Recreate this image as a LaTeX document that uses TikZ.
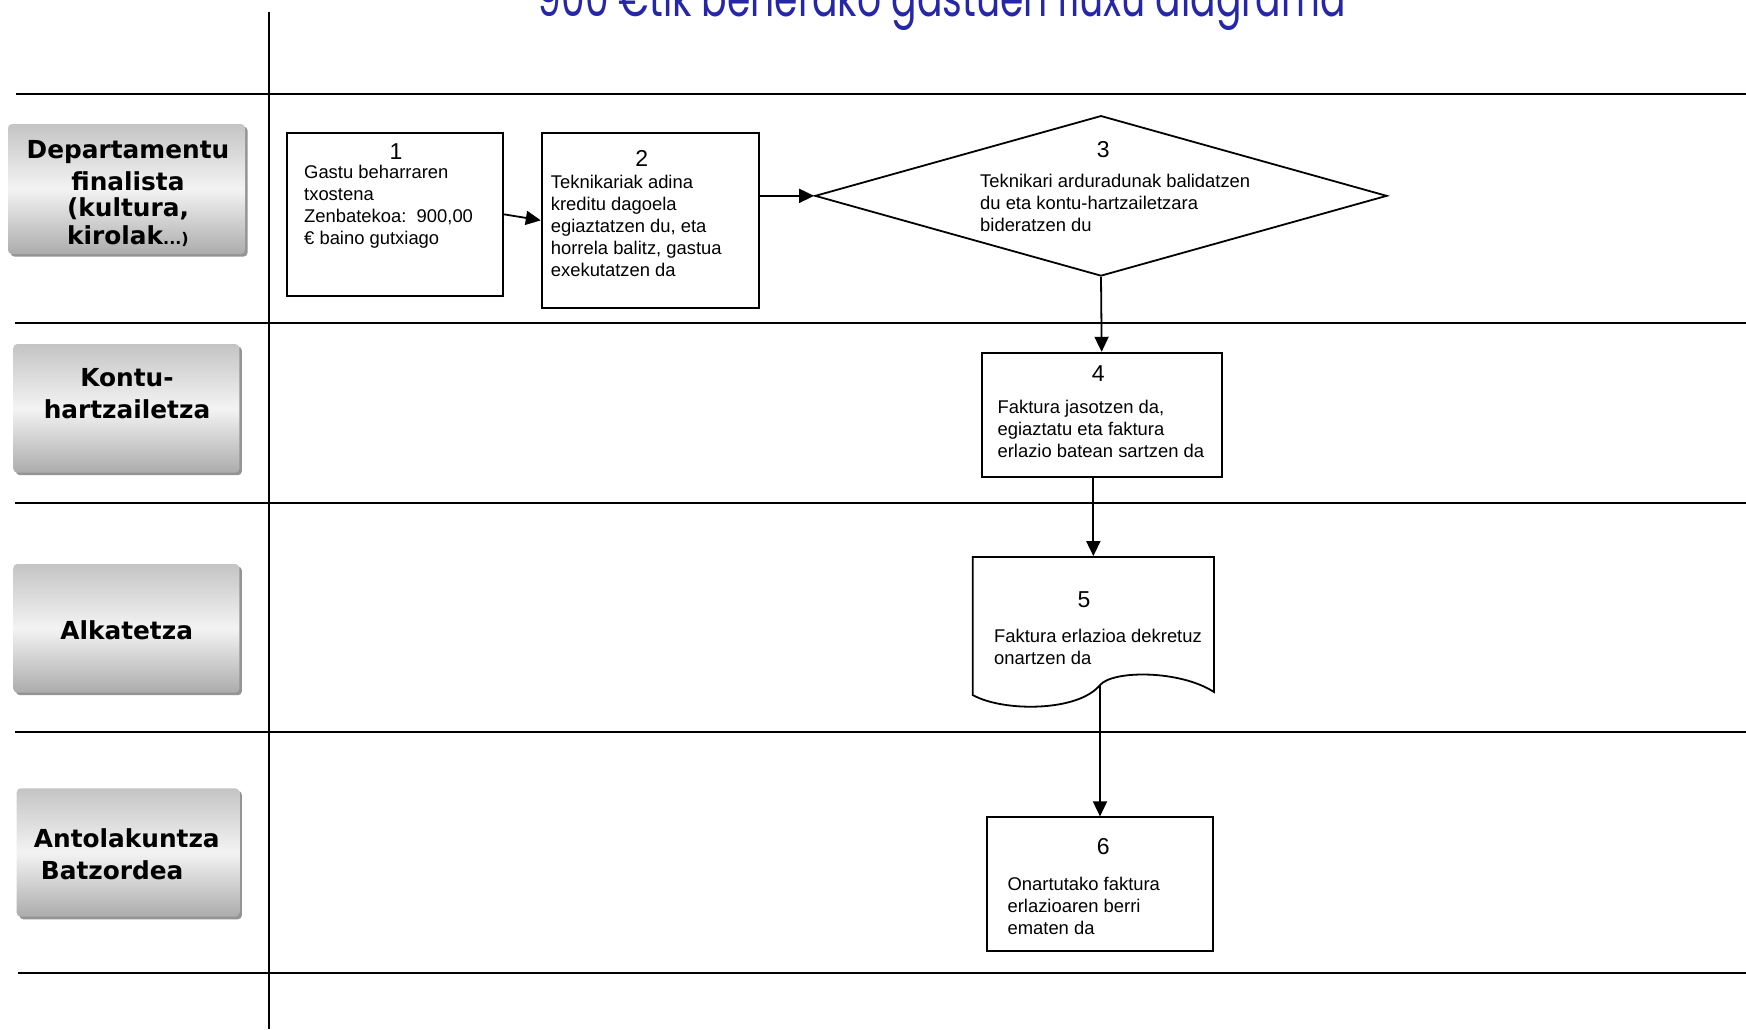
\documentclass[tikz,border=0pt]{standalone}
\usepackage{fontspec}
\setmainfont{Liberation Sans}
\newfontfamily\lblfont{DejaVu Sans}
\newfontfamily\ttlfont{Poppins}
\usetikzlibrary{shapes.geometric,arrows.meta,shadows}
\definecolor{ttlblue}{RGB}{38,38,168}
\definecolor{lbtop}{RGB}{196,196,196}
\definecolor{lbmid}{RGB}{243,243,243}
\definecolor{lbbot}{RGB}{172,172,172}
\begin{document}
\begin{tikzpicture}[x=0.5pt,y=-0.5pt,
  line width=0.9pt,
  lanerule/.style={line width=0.9pt},
  stepbox/.style={draw, rectangle, inner sep=0pt, line width=0.9pt, fill=white},
  lanelabel/.style={rectangle, rounded corners=2pt, inner sep=0pt,
    top color=lbtop, bottom color=lbbot, middle color=lbmid,
    drop shadow={shadow xshift=1.3pt, shadow yshift=-1.3pt, fill=black!60, opacity=0.7}},
  lbltext/.style={font=\lblfont\bfseries\fontsize{12.4}{16}\selectfont, align=center, inner sep=0pt},
  num/.style={font=\fontsize{11.5}{12}\selectfont, inner sep=0pt},
  body/.style={font=\fontsize{9.2}{11}\selectfont, align=left, inner sep=0pt, anchor=north west},
  flow/.style={-{Triangle[length=7.5pt,width=7pt]}, line width=0.9pt},
]
\useasboundingbox (0,0) rectangle (1746,1029);

% title (cut by the top edge)
\node[anchor=base west, inner sep=0pt, text=ttlblue, font=\ttlfont\fontsize{26}{30}\selectfont]
  (title) at (536.7,16.7) {\resizebox{404pt}{\height}{900 €tik beherako gastuen fluxu diagrama}};

% swimlane grid
\draw[lanerule] (269.3,11.7) -- (269.3,1029);
\draw[lanerule] (16,94.3) -- (1746,94.3);
\draw[lanerule] (15,322.7) -- (1746,322.7);
\draw[lanerule] (15,503) -- (1746,503);
\draw[lanerule] (15,731.7) -- (1746,731.7);
\draw[lanerule] (18.3,973.3) -- (1746,973.3);

% lane labels
\node[lanelabel, minimum width=118.5pt, minimum height=65pt] (l1) at (126.5,189) {};
\node[lanelabel, minimum width=113pt, minimum height=64.3pt] (l2) at (126.3,408.3) {};
\node[lanelabel, minimum width=113pt, minimum height=64.3pt] (l3) at (126.3,628.3) {};
\node[lanelabel, minimum width=111.3pt, minimum height=64.2pt] (l4) at (128,852.5) {};

\node[lbltext] (t1) at (128,193.4) {Departamentu\\[-0.2pt]finalista\\[-3pt](kultura,\\[-2pt]kirolak{\fontsize{8}{8}\selectfont...)}};
\node[lbltext] (t2) at (127,394) {Kontu-\\hartzailetza};
\node[lbltext] (t3) at (126.7,630) {Alkatetza};
\node[lbltext, align=left, anchor=west] (t4) at (33,854) {Antolakuntza\\\hspace{3.5pt}Batzordea};

% step 1
\node[stepbox, minimum width=108.3pt, minimum height=81.7pt] (b1) at (395,214.35) {};
\node[num] (n1) at (396,151.7) {1};
\node[body] (x1) at (303.3,162.6) {\strut Gastu beharraren\\txostena\\Zenbatekoa:\ \ 900,00\\€ baino gutxiago};

% step 2
\node[stepbox, minimum width=108.65pt, minimum height=87.7pt] (b2) at (650.35,220.35) {};
\node[num] (n2) at (641.7,158.3) {2};
\node[body] (x2) at (550,172.6) {\strut Teknikariak adina\\kreditu dagoela\\egiaztatzen du, eta\\horrela balitz, gastua\\exekutatzen da};

% step 3
\node[diamond, draw, fill=white, inner sep=0pt, minimum width=286pt, minimum height=80.2pt, line width=0.9pt] (d3) at (1101,195.85) {};
\node[num] (n3) at (1103.3,149.3) {3};
\node[body] (x3) at (979.3,171) {\strut Teknikari arduradunak balidatzen\\du eta kontu-hartzailetzara\\bideratzen du};

% step 4
\node[stepbox, minimum width=120pt, minimum height=62pt] (b4) at (1101.7,414.7) {};
\node[num] (n4) at (1098.3,373.3) {4};
\node[body] (x4) at (996.7,397.6) {\strut Faktura jasotzen da,\\egiaztatu eta faktura\\erlazio batean sartzen da};

% step 5 (document shape)
\node[rectangle, inner sep=0pt, minimum width=120.65pt, minimum height=69pt] (d5) at (1093.35,626) {};
\draw[line width=0.9pt, fill=white] (972.7,557) -- (972.7,695)
  .. controls (1003,712) and (1078,712) .. (1100,685)
  .. controls (1113,670) and (1180,670) .. (1214,692)
  -- (1214,557) -- cycle;
\coordinate (d5w) at (1100,685);
\node[num] (n5) at (1084,600) {5};
\node[body] (x5) at (993.3,626) {\strut Faktura erlazioa dekretuz\\onartzen da};

% step 6
\node[stepbox, minimum width=113pt, minimum height=66.7pt] (b6) at (1100.3,884) {};
\node[num] (n6) at (1103.3,846.7) {6};
\node[body] (x6) at (1006.7,874.3) {\strut Onartutako faktura\\erlazioaren berri\\ematen da};

% connectors
\draw[flow] (b1.east) -- (b2.west);
\draw[flow] (b2.east |- d3.west) -- (d3.west);
\draw[flow] (d3.south) -- (b4.north);
\draw[flow] (b4.south -| d5.north) -- (d5.north);
\draw[flow] (d5w) -- (d5w |- b6.north);
\end{tikzpicture}
\end{document}
